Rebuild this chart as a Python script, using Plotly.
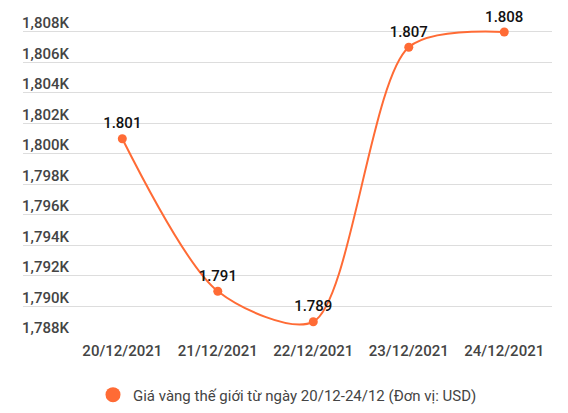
import plotly.graph_objects as go

# Data
dates = ['20/12/2021', '21/12/2021', '22/12/2021', '23/12/2021', '24/12/2021']
prices = [1801, 1791, 1789, 1807, 1808]
y_ticks = [1788, 1790, 1792, 1794, 1796, 1798, 1800, 1802, 1804, 1806, 1808]
series_name = 'Giá vàng thế giới từ ngày 20/12-24/12 (Đơn vị: USD)'

orange = '#ff6b35'

# Point labels like "1.801"
labels = [f'{p / 1000:.3f}' for p in prices]

fig = go.Figure()

fig.add_trace(go.Scatter(
    x=dates, y=prices, mode='lines+markers+text',
    line=dict(color=orange, width=2, shape='spline', smoothing=0.8),
    marker=dict(color=orange, size=9),
    text=labels, textposition='top center',
    textfont=dict(family='Roboto', size=15, color='#111', weight=500),
    showlegend=False, cliponaxis=False
))

# Legend entry (marker only)
fig.add_trace(go.Scatter(
    x=[None], y=[None], mode='markers', name=series_name,
    marker=dict(color=orange, size=15)
))

fig.update_layout(
    width=568, height=413,
    margin=dict(l=15, r=24, t=0, b=84),
    plot_bgcolor='white', paper_bgcolor='white',
    font=dict(family='Roboto', color='#444'),
    legend=dict(orientation='h', x=0.5, xanchor='center', y=-0.176, yanchor='middle',
                font=dict(size=15, color='#444'), itemsizing='trace'),
)

fig.update_xaxes(
    type='category', range=[-1.04, 4.5], showgrid=False, zeroline=False,
    showline=False, automargin=False, ticklabelstandoff=3,
    tickfont=dict(size=15, color='#444', weight=500)
)

fig.update_yaxes(
    range=[1788, 1809.57], tickvals=y_ticks, ticktext=[f'{v:,}K' for v in y_ticks],
    ticklabelposition='inside', ticklabelshift=-9, ticklabelstandoff=-4,
    ticklabeloverflow='allow', automargin=False,
    gridcolor='#dddddd', gridwidth=1, zeroline=False, showline=False,
    tickfont=dict(size=15, color='#444', weight=500)
)

fig.write_html('out.html')
